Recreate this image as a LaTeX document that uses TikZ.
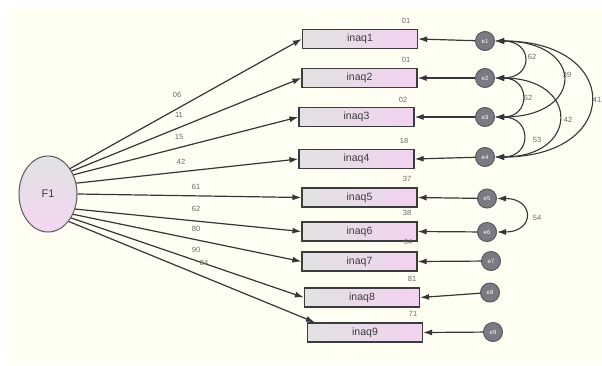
\documentclass[tikz,border=0pt]{standalone}
\usepackage{fontspec}
\setmainfont{Liberation Sans}
\usetikzlibrary{arrows.meta,shapes.geometric}
\definecolor{cream}{HTML}{FFFEF2}
\definecolor{boxline}{HTML}{3C3C40}
\definecolor{boxgray}{HTML}{E2E2E2}
\definecolor{boxpink}{HTML}{F2D2F0}
\definecolor{lblgray}{HTML}{6A6A6A}
\definecolor{errfill}{HTML}{7A7A82}
\tikzset{
  obs/.style={draw=boxline, line width=1.2pt, left color=boxgray, right color=boxpink,
    minimum width=115pt, minimum height=19pt, inner sep=0pt,
    font=\fontsize{10.5}{12}\selectfont, text=boxline},
  err/.style={circle, draw=boxline!85, line width=1pt, fill=errfill, minimum size=19pt,
    inner sep=0pt, font=\fontsize{6}{7}\selectfont, text=white},
  lat/.style={ellipse, draw=boxline!85, line width=1pt, top color=boxgray, bottom color=boxpink!90,
    minimum width=58pt, minimum height=76pt, inner sep=0pt, font=\fontsize{11}{12}\selectfont, text=boxline},
  lbl/.style={font=\fontsize{7.5}{8}\selectfont, text=lblgray, inner sep=0pt},
  path/.style={draw=boxline!90!black, line width=1.2pt, -{Latex[length=9pt,width=6pt]}},
  cov/.style={draw=boxline!90!black, line width=1.1pt, {Latex[length=9pt,width=6pt]}-{Latex[length=9pt,width=6pt]}, out=0, in=0}
}
\begin{document}
\begin{tikzpicture}[x=1pt,y=-1pt]
\useasboundingbox (0,0) rectangle (602,365);
\fill[cream] (10,7) rectangle (602,365);

\node[lat] (F1) at (48,194) {F1};

\node[obs] (x1) at (360,39) {inaq1};
\node[obs] (x2) at (359.5,78) {inaq2};
\node[obs] (x3) at (356.5,117) {inaq3};
\node[obs] (x4) at (356.5,159) {inaq4};
\node[obs] (x5) at (359.5,197.5) {inaq5};
\node[obs] (x6) at (359.5,231.5) {inaq6};
\node[obs] (x7) at (359.5,261.5) {inaq7};
\node[obs] (x8) at (362,297.5) {inaq8};
\node[obs] (x9) at (365,332.5) {inaq9};

\node[err] (e1) at (485,41) {e1};
\node[err] (e2) at (485,78) {e2};
\node[err] (e3) at (485,117) {e3};
\node[err] (e4) at (485,157) {e4};
\node[err] (e5) at (487,198.5) {e5};
\node[err] (e6) at (487,232) {e6};
\node[err] (e7) at (491,261) {e7};
\node[err] (e8) at (490,292.5) {e8};
\node[err] (e9) at (493,332) {e9};

% loadings
\draw[path] (F1.49) -- (x1.west);
\draw[path] (F1.44) -- (x2.west);
\draw[path] (F1.37) -- (x3.west);
\draw[path] (F1.21) -- (x4.west);
\draw[path] (F1.0) -- (x5.west);
\draw[path] (F1.-29) -- (x6.west);
\draw[path] (F1.-39) -- (x7.west);
\draw[path] (F1.-46) -- (x8.west);
\draw[path] (F1.-53) -- ([xshift=8pt]x9.north west);

% error paths
\foreach \i in {1,...,9} { \draw[path] (e\i) -- (x\i.east); }

% covariances
\draw[cov, looseness=2.67] (e1.east) to (e2.east);
\draw[cov, looseness=3.05] (e1.east) to (e3.east);
\draw[cov, looseness=2.82] (e1.east) to (e4.east);
\draw[cov, looseness=2.35] (e2.east) to (e3.east);
\draw[cov, looseness=2.76] (e2.east) to (e4.east);
\draw[cov, looseness=2.38] (e3.east) to (e4.east);
\draw[cov, looseness=2.9] (e5.east) to (e6.east);

% loading labels
\node[lbl] (l1) at (177,95) {06};
\node[lbl] (l2) at (179,115) {11};
\node[lbl] (l3) at (179,137) {15};
\node[lbl] (l4) at (181,162) {42};
\node[lbl] (l5) at (196,187) {61};
\node[lbl] (l6) at (196,209) {62};
\node[lbl] (l7) at (196,229) {80};
\node[lbl] (l8) at (196,250) {90};
\node[lbl] (l9) at (204,263) {84};

% R-squared labels
\node[lbl] (r1) at (406,21) {01};
\node[lbl] (r2) at (406,60) {01};
\node[lbl] (r3) at (403,100) {02};
\node[lbl] (r4) at (404,141) {18};
\node[lbl] (r5) at (407,179) {37};
\node[lbl] (r6) at (407,213) {38};
\node[lbl] (r7) at (408,242) {64};
\node[lbl] (r8) at (412,279) {81};
\node[lbl] (r9) at (413,314) {71};

% covariance labels
\node[lbl] (c12) at (532,57) {62};
\node[lbl] (c13) at (567,75) {39};
\node[lbl] (c23) at (528,98) {62};
\node[lbl] (c14) at (597,100) {41};
\node[lbl] (c24) at (568,120) {42};
\node[lbl] (c34) at (537,140) {53};
\node[lbl] (c56) at (537,218) {54};
\end{tikzpicture}
\end{document}
